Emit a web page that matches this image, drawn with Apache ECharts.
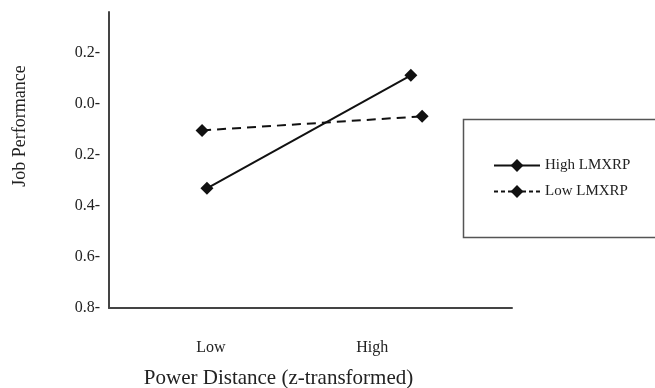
<!DOCTYPE html>
<html>
<head>
<meta charset="utf-8">
<script src="https://cdn.jsdelivr.net/npm/echarts@6/dist/echarts.min.js"></script>
<style>
  html, body { margin: 0; padding: 0; background: #fff; }
  #chart { width: 655px; height: 388px; }
</style>
</head>
<body>
<div id="chart"></div>
<script>
// Datos
const xLevels = ['Low', 'High'];
const xTickPos = [25.3, 65.3];          // posición de las etiquetas Low / High
const highX = [24.3, 74.9];
const highY = [-0.331, 0.112];
const lowX = [23.1, 77.7];
const lowY = [-0.104, -0.049];
const seriesNames = ['High LMXRP', 'Low LMXRP'];

const serif = '"Liberation Serif", "DejaVu Serif", serif';

const chart = echarts.init(document.getElementById('chart'));

const option = {
    animation: false,
    grid: { left: 109, right: 143, top: 12, bottom: 80, outerBoundsMode: 'none' },
    xAxis: {
        type: 'value',
        min: 0,
        max: 100,
        name: 'Power Distance (z-transformed)',
        nameLocation: 'middle',
        nameGap: 60,
        nameTextStyle: { fontFamily: serif, fontSize: 21, color: '#222', padding: [0, 64, 0, 0] },
        axisLine: { onZero: false, lineStyle: { color: '#444', width: 2 } },
        axisTick: { show: false },
        splitLine: { show: false },
        axisLabel: {
            customValues: xTickPos,
            formatter: function (v) {
                const i = xTickPos.indexOf(v);
                return i >= 0 ? xLevels[i] : '';
            },
            margin: 32,
            fontFamily: serif,
            fontSize: 16,
            color: '#222'
        }
    },
    yAxis: {
        type: 'value',
        min: -0.8,
        max: 0.36,
        interval: 0.2,
        name: 'Job Performance',
        nameLocation: 'middle',
        nameRotate: 90,
        nameGap: 80,
        nameTextStyle: { fontFamily: serif, fontSize: 18, color: '#222', padding: [0, 0, 0, 68] },
        axisLine: { onZero: false, show: true, lineStyle: { color: '#444', width: 2 } },
        axisTick: { show: false },
        splitLine: { show: false },
        axisLabel: {
            showMaxLabel: false,
            formatter: function (v) {
                return Math.abs(v).toFixed(1) + '-';
            },
            margin: 9,
            fontFamily: serif,
            fontSize: 16,
            color: '#222'
        }
    },
    legend: {
        left: 488,
        top: 153,
        orient: 'vertical',
        itemWidth: 46,
        itemHeight: 16,
        itemGap: 11,
        textStyle: { fontFamily: serif, fontSize: 15, color: '#222' },
        data: [
            { name: seriesNames[0] },
            { name: seriesNames[1], lineStyle: { type: [4, 3] } }
        ]
    },
    graphic: [{
        type: 'rect',
        left: 461,
        top: 117,
        shape: { width: 200, height: 118 },
        style: { fill: 'none', stroke: '#555', lineWidth: 1.5 },
        z: -1
    }],
    series: [
        {
            name: seriesNames[0],
            type: 'line',
            data: highX.map((x, i) => [x, highY[i]]),
            symbol: 'diamond',
            symbolSize: 13,
            itemStyle: { color: '#111' },
            lineStyle: { color: '#111', width: 2 }
        },
        {
            name: seriesNames[1],
            type: 'line',
            data: lowX.map((x, i) => [x, lowY[i]]),
            symbol: 'diamond',
            symbolSize: 13,
            itemStyle: { color: '#111' },
            lineStyle: { color: '#111', width: 2, type: [9, 6] }
        }
    ]
};

chart.setOption(option);
</script>
</body>
</html>
